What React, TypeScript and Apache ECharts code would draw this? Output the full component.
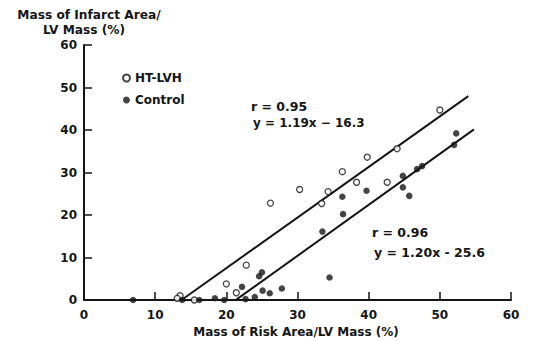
import React, { useEffect, useRef } from "react";
import * as echarts from "echarts";

const xTicks = [0, 10, 20, 30, 40, 50, 60];
const yTicks = [0, 10, 20, 30, 40, 50, 60];

const htlvhX = [13.5, 13.1, 15.5, 20.0, 21.4, 22.8, 26.2, 30.3, 33.4, 34.3, 36.3, 38.3, 39.8, 42.6, 44.0, 50.0];
const htlvhY = [1.0, 0.4, 0.0, 3.8, 1.7, 8.2, 22.8, 26.0, 22.7, 25.5, 30.2, 27.7, 33.6, 27.7, 35.6, 44.7];

const controlX = [6.9, 13.8, 16.2, 18.4, 19.7, 22.2, 22.7, 24.0, 24.6, 25.0, 25.1, 26.1, 27.8, 33.5, 34.5, 36.3, 36.4, 39.7, 44.8, 44.8, 45.7, 46.8, 47.5, 52.0, 52.3];
const controlY = [0.0, 0.0, 0.0, 0.4, 0.0, 3.1, 0.2, 0.7, 5.6, 6.5, 2.2, 1.6, 2.7, 16.1, 5.3, 24.3, 20.2, 25.7, 29.2, 26.5, 24.5, 30.8, 31.5, 36.5, 39.2];

// regression: [slope, intercept, xStart, xEnd]
const htlvhFit = [1.19, -16.3, 13.7, 54.0];
const controlFit = [1.2, -25.6, 21.3, 54.8];

const FONT = "DejaVu Sans";

function fitLine(f: number[]) {
  return [
    [f[2], f[0] * f[2] + f[1]],
    [f[3], f[0] * f[3] + f[1]],
  ];
}

function label(text: string, x: number, y: number, size = 12, align = "left") {
  return {
    type: "text",
    x,
    y,
    style: {
      text,
      font: `bold ${size}px "${FONT}"`,
      fill: "#151515",
      align,
      verticalAlign: "middle",
    },
  };
}

export default function App() {
  const ref = useRef<HTMLDivElement>(null);
  useEffect(() => {
    if (!ref.current) return;
    const chart = echarts.init(ref.current, null, { renderer: "svg" });
    const txt = { fontFamily: FONT, fontWeight: "bold", fontSize: 12, color: "#151515" };
    chart.setOption({
      animation: false,
      backgroundColor: "#fff",
      grid: { left: 84, top: 45, right: 22, bottom: 41 },
      xAxis: {
        type: "value",
        min: 0,
        max: 60,
        interval: 10,
        axisLine: { lineStyle: { color: "#151515", width: 2 } },
        axisTick: { inside: true, length: 8, lineStyle: { color: "#151515", width: 1.5 } },
        axisLabel: { ...txt, margin: 9, formatter: (v: number) => (xTicks.includes(v) ? String(v) : "") },
        splitLine: { show: false },
      },
      yAxis: {
        type: "value",
        min: 0,
        max: 60,
        interval: 10,
        axisLine: { show: true, lineStyle: { color: "#151515", width: 2 } },
        axisTick: { show: true, inside: true, length: 8, lineStyle: { color: "#151515", width: 1.5 } },
        axisLabel: { ...txt, margin: 7, formatter: (v: number) => (yTicks.includes(v) ? String(v) : "") },
        splitLine: { show: false },
      },
      legend: {
        orient: "vertical",
        left: 117,
        top: 66,
        itemWidth: 7,
        itemHeight: 7,
        itemGap: 8,
        data: ["HT-LVH", "Control"],
        textStyle: { ...txt, lineHeight: 14 },
      },
      graphic: [
        label("Mass of Infarct Area/", 89, 15, 12.2, "center"),
        label("LV Mass (%)", 84, 29.5, 12.2, "center"),
        label("Mass of Risk Area/LV Mass (%)", 296, 332, 12, "center"),
        label("r = 0.95", 251, 106, 12.5),
        label("y = 1.19x \u2212 16.3", 253, 123, 12),
        label("r = 0.96", 372, 232, 12.5),
        label("y = 1.20x - 25.6", 374, 252, 12.5),
      ],
      series: [
        {
          name: "HT-LVH fit",
          type: "line",
          data: fitLine(htlvhFit),
          symbol: "none",
          lineStyle: { color: "#151515", width: 2 },
          silent: true,
        },
        {
          name: "Control fit",
          type: "line",
          data: fitLine(controlFit),
          symbol: "none",
          lineStyle: { color: "#151515", width: 2 },
          silent: true,
        },
        {
          name: "HT-LVH",
          type: "scatter",
          symbol: "circle",
          symbolSize: 6,
          data: htlvhX.map((x, i) => [x, htlvhY[i]]),
          itemStyle: { color: "#fff", borderColor: "#151515", borderWidth: 1.3 },
          z: 5,
        },
        {
          name: "Control",
          type: "scatter",
          symbol: "circle",
          symbolSize: 6.5,
          data: controlX.map((x, i) => [x, controlY[i]]),
          itemStyle: { color: "#151515" },
          z: 5,
        },
      ],
    });
    return () => chart.dispose();
  }, []);
  return <div ref={ref} style={{ width: 533, height: 341, position: "absolute", left: 0, top: 0 }} />;
}
